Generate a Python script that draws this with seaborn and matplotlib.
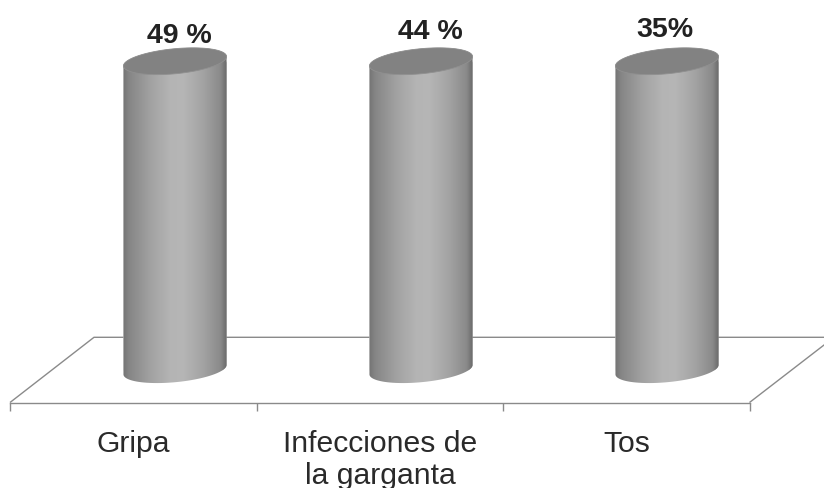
import numpy as np
import pandas as pd
import matplotlib
matplotlib.use("Agg")
import matplotlib.pyplot as plt
from matplotlib.colors import LinearSegmentedColormap
from matplotlib.path import Path
from matplotlib.patches import PathPatch
from matplotlib.transforms import IdentityTransform
import seaborn as sns

categorias = ["Gripa", "Infecciones de\nla garganta", "Tos"]
etiquetas = ["49 %", "44 %", "35%"]
alturas_dibujadas = [48.7, 48.7, 48.7]

W, H = 824, 489
sns.set_theme(style="white")
plt.rcParams["font.family"] = ["Liberation Sans", "DejaVu Sans"]
fig = plt.figure(figsize=(W / 100, H / 100), dpi=100, facecolor="white")


def rect(l, top, r, bottom):
    return [l / W, 1 - bottom / H, (r - l) / W, (bottom - top) / H]


def px(x, y):
    return x, H - y


# Floor and category axis
base = fig.add_axes(rect(10, 0, 750, 403.5), zorder=1, facecolor="none")
base.set_xlim(-0.5, 2.5)
base.set_ylim(0, 1)
base.set_yticks([])
for s in ["top", "left", "right"]:
    base.spines[s].set_visible(False)
base.spines["bottom"].set_color("#8a8a8a")
base.spines["bottom"].set_linewidth(1.0)
base.set_xticks(range(len(categorias)))
base.set_xticklabels(categorias, fontsize=21.7, color="#2a2a2a", linespacing=1.2)
base.tick_params(axis="x", which="major", length=0, pad=19)
base.set_xticks([-0.5, 0.5, 1.5, 2.5], minor=True)
base.tick_params(axis="x", which="minor", length=5.5, width=1.0, color="#8a8a8a", bottom=True)
floor = [px(10, 403.5), px(94, 338.3), px(834, 338.3), px(749.5, 403.5)]
base.add_patch(PathPatch(Path(floor), fill=False, edgecolor="#8a8a8a", linewidth=1.0,
                         transform=IdentityTransform(), clip_on=False))

# Cylinders: bars drawn with seaborn, then shaded
ax = fig.add_axes(rect(52, 16, 790, 396), zorder=2, facecolor="none")
df = pd.DataFrame({"categoria": categorias, "altura": alturas_dibujadas})
sns.barplot(data=df, x="categoria", y="altura", color="#9c9c9c", width=0.419,
            saturation=1, ax=ax)
ax.set_xlim(-0.5, 2.5)
ax.set_ylim(-4, 56)
ax.set_axis_off()
ax.set_autoscale_on(False)

cmap = LinearSegmentedColormap.from_list("cil", [
    (0.00, "#747474"), (0.06, "#868686"), (0.25, "#a0a0a0"), (0.45, "#b4b4b4"),
    (0.58, "#b6b6b6"), (0.78, "#a2a2a2"), (0.94, "#8a8a8a"), (1.00, "#6a6a6a")])
grad = np.linspace(0, 1, 256)[None, :]
tilt = np.deg2rad(5.5)


def ell(cx, cy, a, b, t):
    return np.c_[cx + a * np.cos(t) * np.cos(tilt) - b * np.sin(t) * np.sin(tilt),
                 cy + a * np.cos(t) * np.sin(tilt) + b * np.sin(t) * np.cos(tilt)]


offsets = [(4.5, 1), (9, 4.5), (-2.5, 7)]
for bar, lab, off in zip(ax.patches, etiquetas, offsets):
    x0, w, h = bar.get_x(), bar.get_width(), bar.get_height()
    (xl, y0), (xr, y1) = ax.transData.transform([(x0, 0), (x0 + w, h)])
    cx, a = (xl + xr) / 2, (xr - xl) / 2 / np.cos(tilt)
    b = 12.5
    body = np.vstack([ell(cx, y0, a, b, np.linspace(np.pi, 2 * np.pi, 80)),
                      ell(cx, y1, a, b, np.linspace(0, np.pi, 80))])
    body_path = Path(np.vstack([body, body[:1]]), closed=True)
    bar.set_clip_path(body_path, IdentityTransform())
    im = ax.imshow(grad, cmap=cmap, aspect="auto", extent=(x0, x0 + w, -4, h + 4),
                   vmin=0, vmax=1, zorder=3)
    im.set_clip_path(body_path, IdentityTransform())
    top = ell(cx, y1, a, b, np.linspace(0, 2 * np.pi, 160))
    ax.add_patch(PathPatch(Path(top, closed=True), facecolor="#828282", edgecolor="#909090",
                           linewidth=0.6, transform=IdentityTransform(), clip_on=False, zorder=4))
    ax.annotate(lab, xy=(x0 + w / 2, h), xytext=(off[0] * 0.72, (off[1] + 12.5) * 0.72),
                textcoords="offset points", ha="center", va="bottom",
                fontsize=20.5, fontweight="bold", color="#222222", annotation_clip=False)

fig.savefig("out.png", dpi=100, facecolor="white")
